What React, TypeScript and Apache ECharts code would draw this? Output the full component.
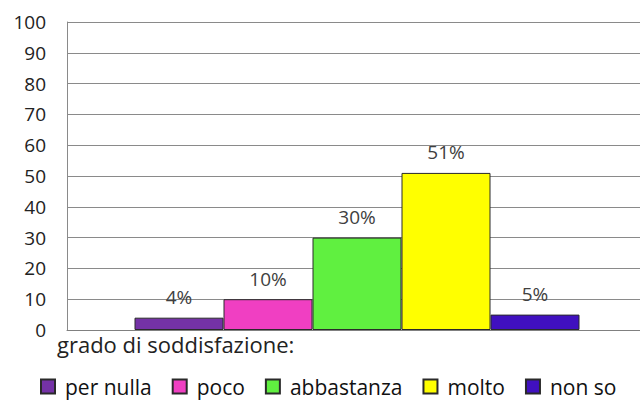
import React, { useEffect, useRef } from "react";
import * as echarts from "echarts";

const categories = ["grado di soddisfazione:"];
const seriesNames = ["per nulla", "poco", "abbastanza", "molto", "non so"];
const seriesValues = [4, 10, 30, 51, 5];
const seriesColors = ["#7432a6", "#f03fc2", "#60f040", "#ffff00", "#4010bf"];
const yTicks = { min: 0, max: 100, interval: 10 };

export default function App() {
  const ref = useRef<HTMLDivElement>(null);
  useEffect(() => {
    document.body.style.margin = "0";
    const chart = echarts.init(ref.current!, undefined, { renderer: "svg" });
    const font = "'Open Sans', sans-serif";
    chart.setOption({
      animation: false,
      backgroundColor: "#ffffff",
      grid: {
        left: 67,
        width: 580,
        top: 22,
        bottom: 71,
        containLabel: false,
        outerBoundsMode: "none",
      },
      xAxis: {
        type: "category",
        data: categories,
        axisLine: { show: true, lineStyle: { color: "#808080", width: 1 } },
        axisTick: { show: false },
        axisLabel: { show: false },
      },
      yAxis: {
        type: "value",
        min: yTicks.min,
        max: yTicks.max,
        interval: yTicks.interval,
        axisLine: { show: true, lineStyle: { color: "#8a8a8a" } },
        axisTick: { show: false },
        splitLine: { lineStyle: { color: "#8a8a8a", width: 1 } },
        axisLabel: { color: "#222", fontFamily: font, fontSize: 19, margin: 21 },
      },
      legend: {
        left: 40,
        top: 376,
        padding: 0,
        itemWidth: 14,
        itemHeight: 14,
        itemGap: 20,
        icon: "rect",
        textStyle: { color: "#111", fontFamily: font, fontSize: 21, padding: [0, 0, 0, 5] },
        data: seriesNames,
      },
      graphic: [
        {
          type: "text",
          left: 57,
          top: 333,
          style: { text: categories[0], font: `22px ${font}`, fill: "#222" },
        },
      ],
      series: seriesNames.map((name, i) => ({
        name,
        type: "bar",
        data: [seriesValues[i]],
        barWidth: 89,
        barGap: "0%",
        itemStyle: { color: seriesColors[i], borderColor: "#2a2a2a", borderWidth: 1 },
        label: {
          show: true,
          position: "top",
          distance: 11,
          formatter: "{c}%",
          color: "#404040",
          fontFamily: font,
          fontSize: 19,
        },
      })),
    });
    return () => chart.dispose();
  }, []);
  return <div ref={ref} style={{ width: 640, height: 401, position: "fixed", left: 0, top: 0 }} />;
}
